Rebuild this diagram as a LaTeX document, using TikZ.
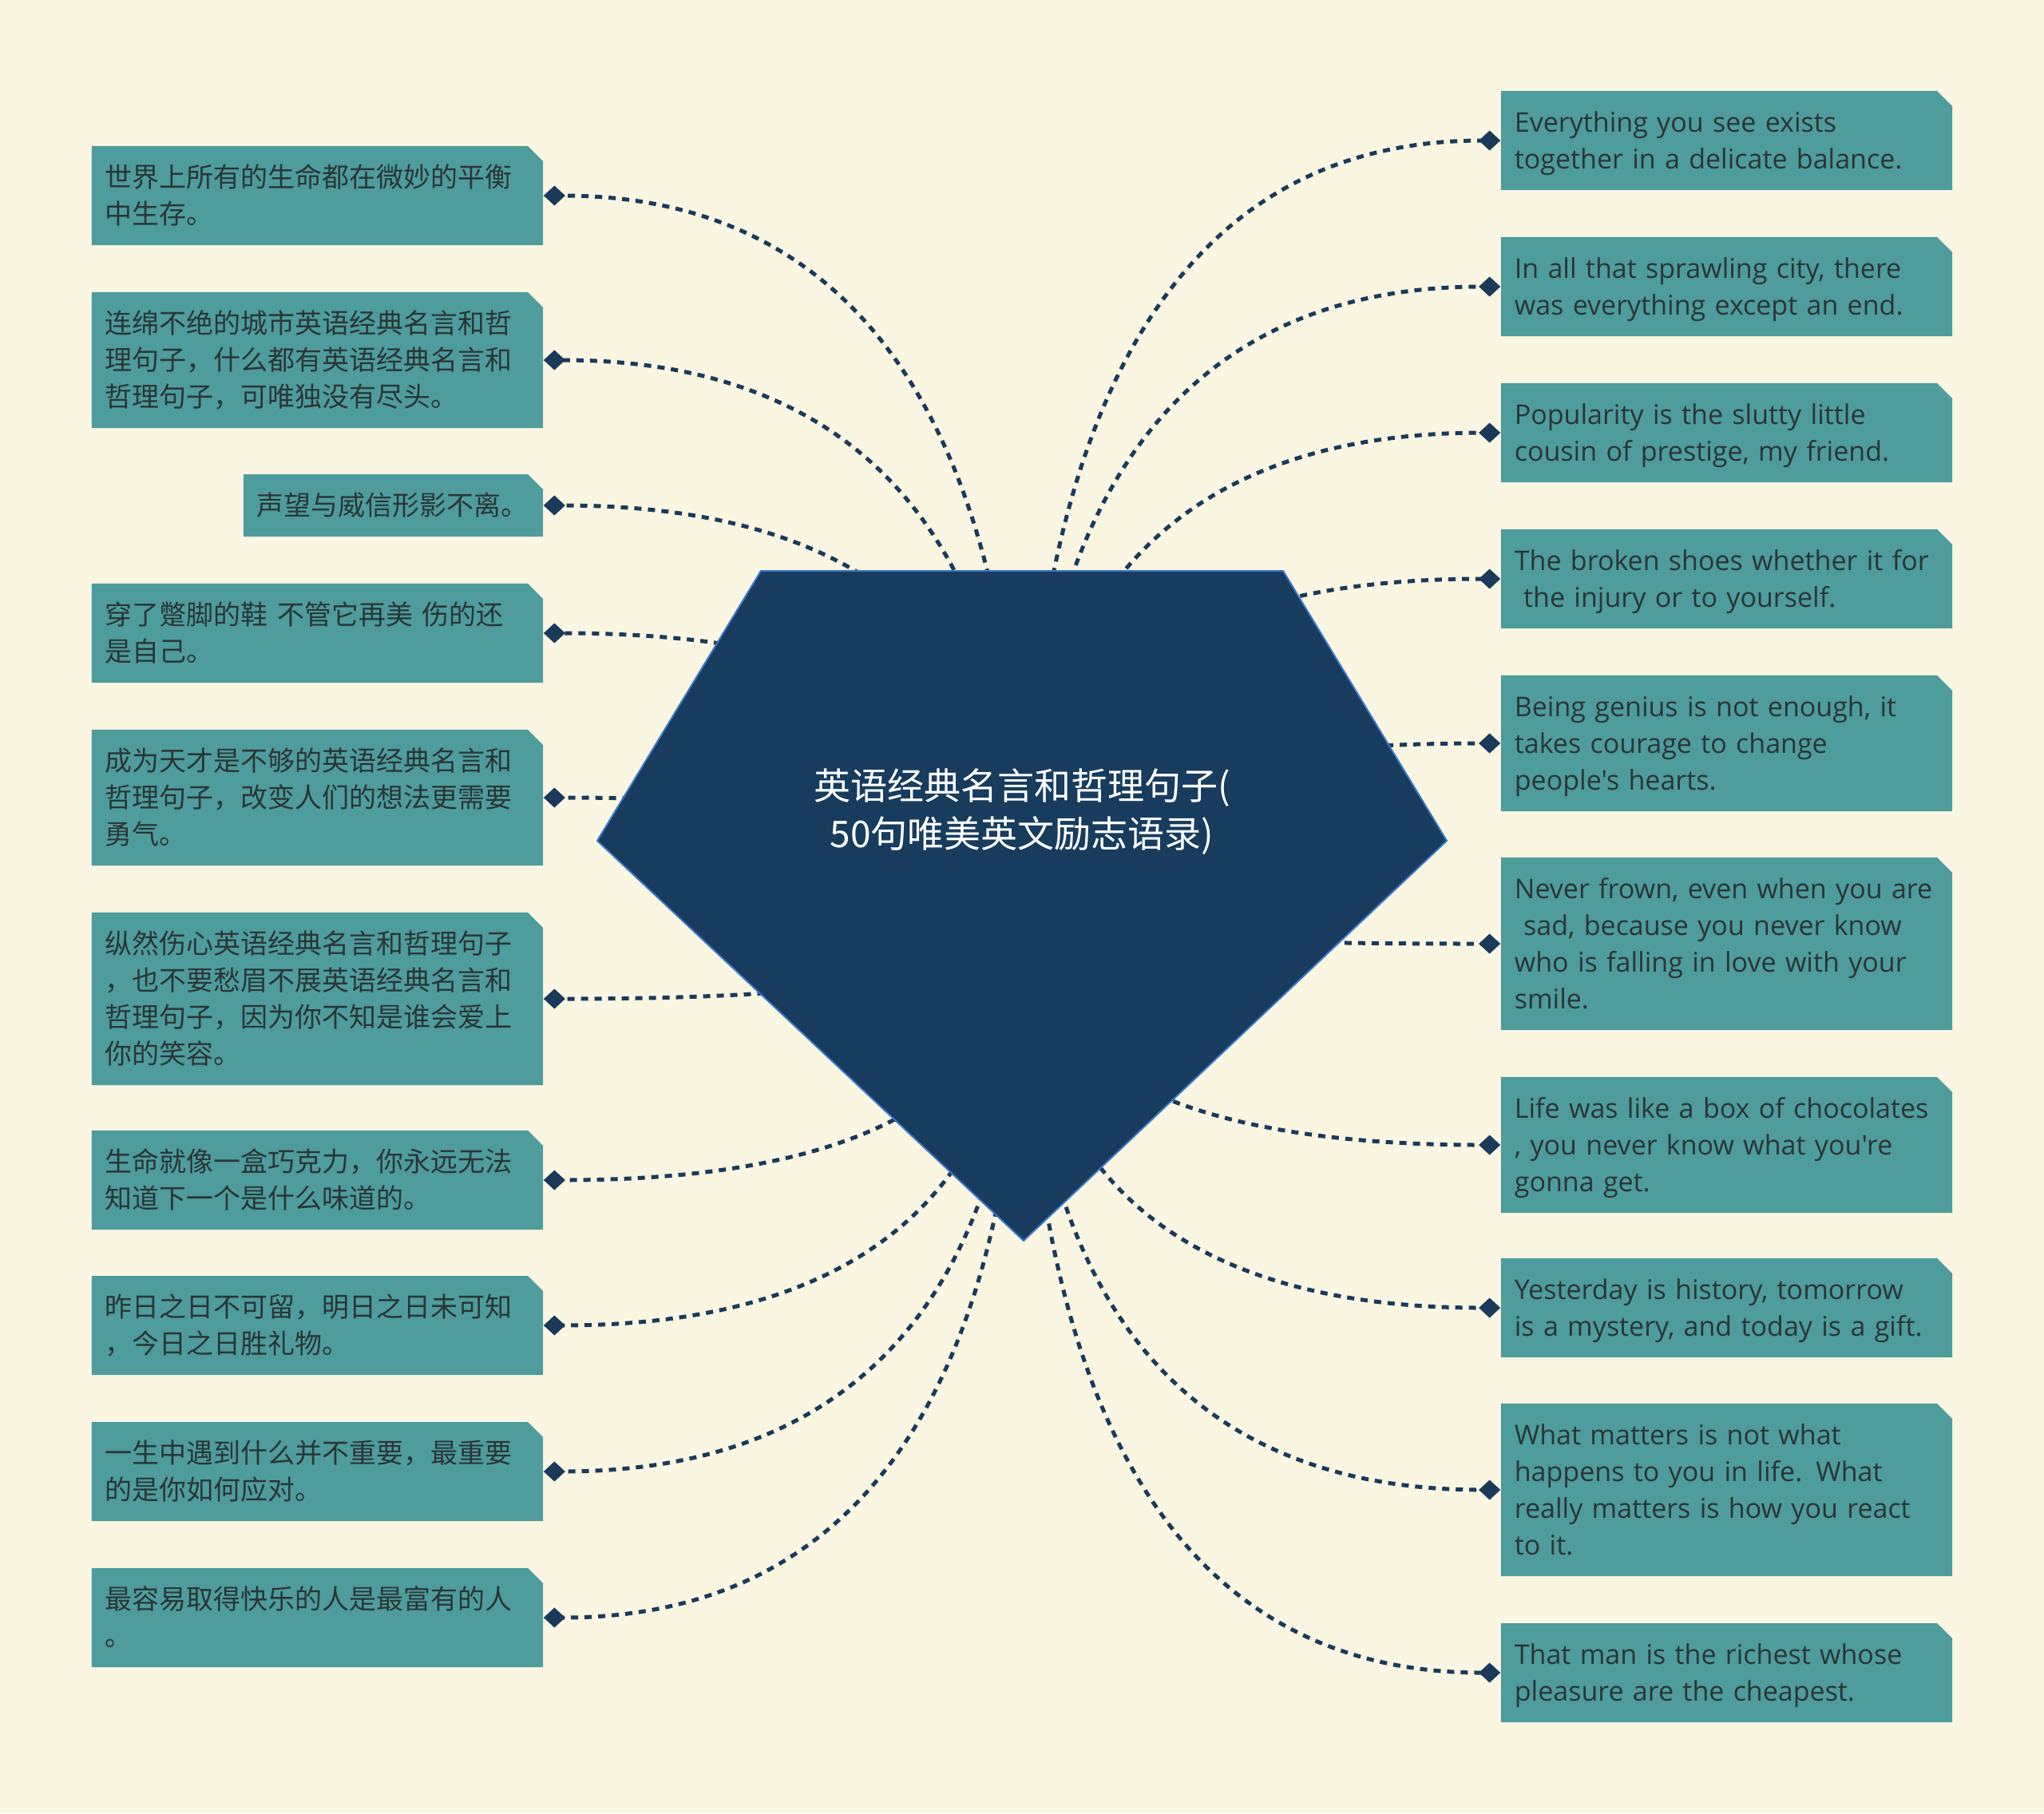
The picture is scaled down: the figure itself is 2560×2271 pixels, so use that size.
\documentclass[tikz,border=0pt]{standalone}
\usepackage{fontspec}
\setmainfont{Open Sans}[Ligatures=TeXOff]
\newfontfamily\cjk{Noto Sans CJK SC}
\usetikzlibrary{arrows.meta,calc}
\definecolor{bg}{HTML}{FAF6E2}
\definecolor{boxc}{HTML}{4E9C9C}
\definecolor{txt}{HTML}{2B3535}
\definecolor{navy}{HTML}{183C5D}
\definecolor{pentaedge}{HTML}{3A78C8}
\definecolor{connc}{HTML}{1B3A5A}
\begin{document}
\begin{tikzpicture}[x=0.01cm,y=-0.01cm,
  qbox/.style={anchor=center, inner xsep=0.17cm, inner ysep=0pt,
    text width=5.31cm, minimum width=5.65cm, align=left, text=txt,
    font=\fontsize{9.67}{13.09}\selectfont,
    execute at begin node={\rule{0pt}{\dimexpr0.7\baselineskip+0.06cm\relax}},
    execute at end node=\strut,
    path picture={\fill[boxc] (path picture bounding box.south west) --
      (path picture bounding box.north west) --
      ([xshift=-0.19cm]path picture bounding box.north east) --
      ([yshift=-0.19cm]path picture bounding box.north east) --
      (path picture bounding box.south east) -- cycle;}},
  cn/.style={qbox, font=\cjk\fontsize{9.67}{13.09}\selectfont},
  conn/.style={draw=connc, line width=0.05cm, dash pattern=on 0.09cm off 0.08cm,
    -{Diamond[length=0.27cm 0 0,width=0.25cm 0 0]}},
]
\fill[bg] (0,0) rectangle (2560,2271);
\useasboundingbox (0,0) rectangle (2560,2271);

\coordinate (hub) at (1282,1143);

% left boxes
\node[cn, minimum height=1.24cm] (L1) at (397.5,245) {世界上所有的生命都在微妙的平衡\\中生存。};
\node[cn, minimum height=1.70cm] (L2) at (397.5,451) {连绵不绝的城市英语经典名言和哲\\理句子，什么都有英语经典名言和\\哲理句子，可唯独没有尽头。};
\node[cn, minimum height=0.78cm, text width=3.41cm, minimum width=3.75cm] (L3) at (492.5,633) {声望与威信形影不离。};
\node[cn, minimum height=1.24cm] (L4) at (397.5,793) {穿了蹩脚的鞋 不管它再美 伤的还\\是自己。};
\node[cn, minimum height=1.70cm] (L5) at (397.5,999) {成为天才是不够的英语经典名言和\\哲理句子，改变人们的想法更需要\\勇气。};
\node[cn, minimum height=2.16cm] (L6) at (397.5,1251) {纵然伤心英语经典名言和哲理句子\\，也不要愁眉不展英语经典名言和\\哲理句子，因为你不知是谁会爱上\\你的笑容。};
\node[cn, minimum height=1.24cm] (L7) at (397.5,1478) {生命就像一盒巧克力，你永远无法\\知道下一个是什么味道的。};
\node[cn, minimum height=1.24cm] (L8) at (397.5,1660) {昨日之日不可留，明日之日未可知\\，今日之日胜礼物。};
\node[cn, minimum height=1.24cm] (L9) at (397.5,1843) {一生中遇到什么并不重要，最重要\\的是你如何应对。};
\node[cn, minimum height=1.24cm] (L10) at (397.5,2026) {最容易取得快乐的人是最富有的人\\。};

% right boxes
\node[qbox, minimum height=1.24cm] (R1) at (2162.5,176) {Everything you see exists\\together in a delicate balance.};
\node[qbox, minimum height=1.24cm] (R2) at (2162.5,359) {In all that sprawling city, there\\was everything except an end.};
\node[qbox, minimum height=1.24cm] (R3) at (2162.5,542) {Popularity is the slutty little\\cousin of prestige, my friend.};
\node[qbox, minimum height=1.24cm] (R4) at (2162.5,725) {The broken shoes whether it for\\~the injury or to yourself.};
\node[qbox, minimum height=1.70cm] (R5) at (2162.5,931) {Being genius is not enough, it\\takes courage to change\\people's hearts.};
\node[qbox, minimum height=2.16cm] (R6) at (2162.5,1182) {Never frown, even when you are\\~sad, because you never know\\who is falling in love with your\\smile.};
\node[qbox, minimum height=1.70cm] (R7) at (2162.5,1434) {Life was like a box of chocolates\\, you never know what you're\\gonna get.};
\node[qbox, minimum height=1.24cm] (R8) at (2162.5,1638) {Yesterday is history, tomorrow\\is a mystery, and today is a gift.};
\node[qbox, minimum height=2.16cm] (R9) at (2162.5,1866) {What matters is not what\\happens to you in life. What\\really matters is how you react\\to it.};
\node[qbox, minimum height=1.24cm] (R10) at (2162.5,2095) {That man is the richest whose\\pleasure are the cheapest.};

% connectors
\foreach \n in {L1,L2,L3,L4,L5,L6,L7,L8,L9,L10}{
  \draw[conn] (hub) .. controls ($(hub)!2/3!(hub|-\n.east)$) and ($(\n.east)!2/3!(hub|-\n.east)$) .. (\n.east);
}
\foreach \n in {R1,R2,R3,R4,R5,R6,R7,R8,R9,R10}{
  \draw[conn] (hub) .. controls ($(hub)!2/3!(hub|-\n.west)$) and ($(\n.west)!2/3!(hub|-\n.west)$) .. (\n.west);
}

% central pentagon
\filldraw[fill=navy, draw=pentaedge, line width=0.02cm, line join=miter]
  (953,715) -- (1607,715) -- (1812,1053) -- (1282,1554) -- (748,1053) -- cycle;
\node[font=\cjk\fontsize{13.09}{17.07}\selectfont, text=white, align=center] (root) at (1280,1017)
  {英语经典名言和哲理句子(\\50句唯美英文励志语录)};
\end{tikzpicture}
\end{document}
